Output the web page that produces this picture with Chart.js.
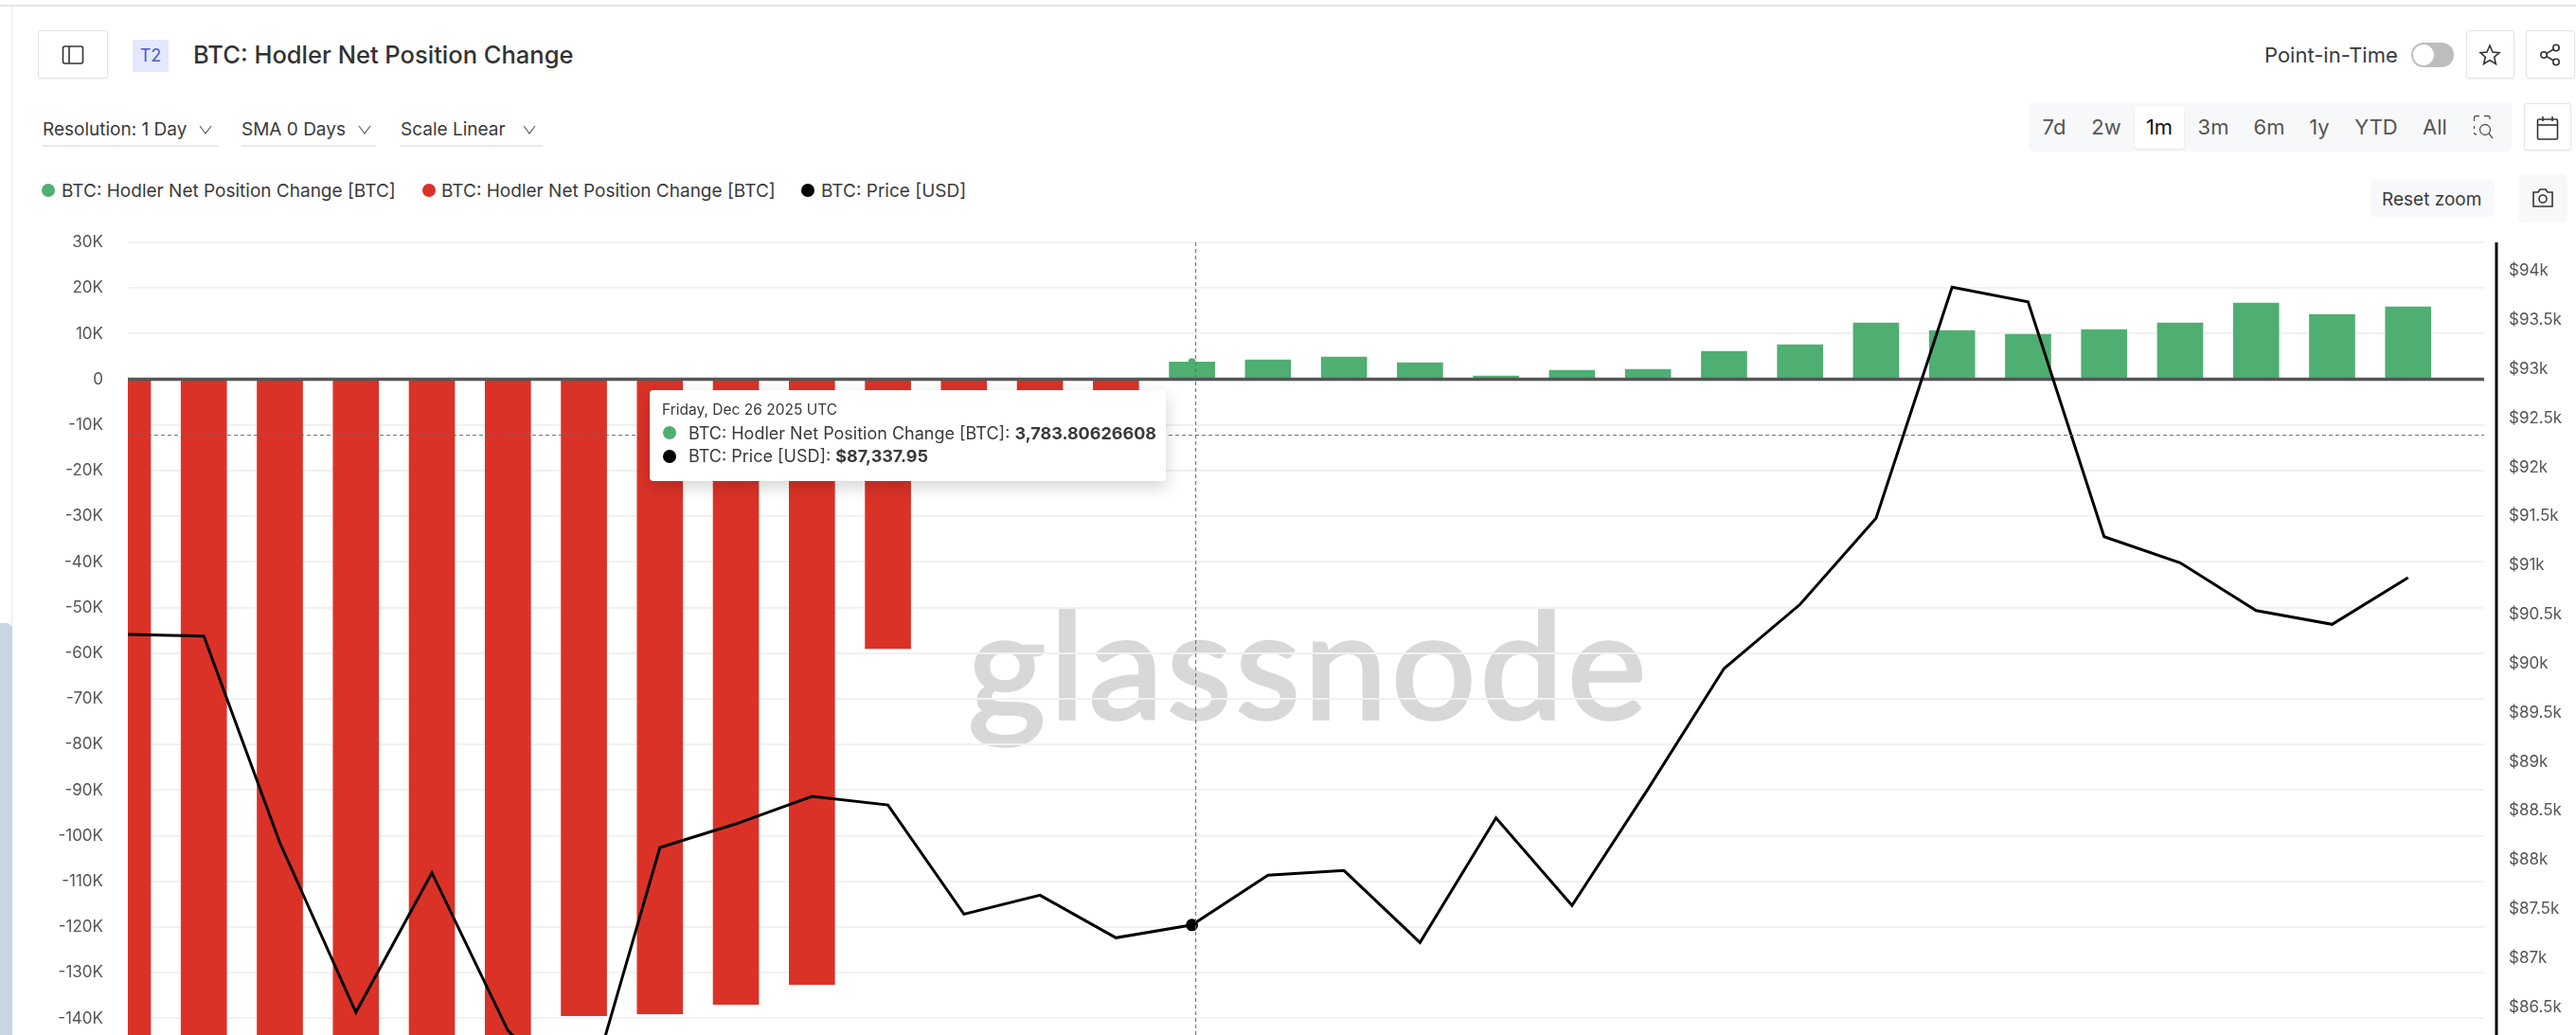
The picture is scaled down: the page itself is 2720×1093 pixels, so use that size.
<!DOCTYPE html>
<html lang="en">
<head>
<meta charset="UTF-8" />
<title>BTC: Hodler Net Position Change</title>
<script src="https://cdn.jsdelivr.net/npm/chart.js"></script>
<style>
  html, body { margin: 0; padding: 0; background: #fff; overflow: hidden; }
  body { width: 2720px; height: 1093px; position: relative; font-family: Inter, sans-serif; color: #3a3a3a; }
  .abs { position: absolute; white-space: nowrap; }
  .txt { position: absolute; white-space: nowrap; transform: translateY(-50%); line-height: 1.2; }
  .btn { position: absolute; box-sizing: border-box; background: #fff; border: 1px solid #e4e4e4; border-radius: 3px; box-shadow: 0 1px 2px rgba(0,0,0,.05); }
  .soft { position: absolute; background: #f7f8f9; border-radius: 5px; }
  .under { position: absolute; height: 2px; background: #e8e8e8; top: 153px; }
  .dot { position: absolute; width: 14px; height: 14px; border-radius: 50%; transform: translate(-50%, -50%); }
  svg { position: absolute; fill: none; stroke: #333; stroke-width: 1.6; }
  svg.chev { stroke: #555; stroke-width: 1.1; }
  svg.thin { stroke: #555; stroke-width: 1.3; }
  #chart { position: absolute; left: 0; top: 0; }
  #watermark { position: absolute; left: 1022px; top: 603px; font-family: Lato, sans-serif; font-weight: 400; font-size: 158px; line-height: 190px; color: #d8d8d8; -webkit-text-stroke: 3.5px #d8d8d8; letter-spacing: 4px; }
  #tip { position: absolute; left: 686px; top: 412px; width: 545px; height: 96px; background: #fff; border-radius: 4px; box-shadow: 0 6px 18px rgba(0,0,0,.18); }
</style>
</head>
<body>
<div class="abs" style="left:0;top:5px;width:2720px;height:2px;background:#e6e6e6"></div>
<div class="abs" style="left:12px;top:6px;width:1px;height:1087px;background:#e9e9e9"></div>
<div class="abs" style="left:0;top:658px;width:13px;height:435px;background:#c9d6df;border-radius:0 6px 0 0"></div>

<div class="btn" style="left:40px;top:32px;width:74px;height:51px"></div>
<svg style="left:65px;top:47px" width="24" height="22" viewBox="0 0 24 22"><rect x="1.5" y="2" width="21" height="18" rx="2"/><line x1="8" y1="2" x2="8" y2="20"/></svg>
<div class="abs" style="left:140px;top:42px;width:38px;height:34px;line-height:34px;text-align:center;background:#e4e8fb;color:#4a5ccf;font-size:18px">T2</div>
<div class="txt" style="left:204px;top:58px;font-size:25.5px;font-weight:500;color:#333">BTC: Hodler Net Position Change</div>

<div class="txt" style="left:45px;top:137px;font-size:19px">Resolution: 1 Day</div>
<div class="under" style="left:45px;width:185px"></div>
<svg class="chev" style="left:210px;top:132px" width="14" height="10" viewBox="0 0 14 10"><polyline points="1,1 7,9 13,1"/></svg>
<div class="txt" style="left:255px;top:137px;font-size:19px">SMA 0 Days</div>
<div class="under" style="left:255px;width:142px"></div>
<svg class="chev" style="left:378px;top:132px" width="14" height="10" viewBox="0 0 14 10"><polyline points="1,1 7,9 13,1"/></svg>
<div class="txt" style="left:423px;top:137px;font-size:19px">Scale Linear</div>
<div class="under" style="left:423px;width:150px"></div>
<svg class="chev" style="left:552px;top:132px" width="14" height="10" viewBox="0 0 14 10"><polyline points="1,1 7,9 13,1"/></svg>

<div id="legend"></div>

<div class="txt" style="left:2391px;top:58px;font-size:22px">Point-in-Time</div>
<div class="abs" style="left:2546px;top:45px;width:45px;height:26px;border-radius:13px;background:#bdbdbd"></div>
<div class="abs" style="left:2548px;top:47px;width:22px;height:22px;border-radius:50%;background:#fff"></div>
<div class="btn" style="left:2604px;top:32px;width:51px;height:51px"></div>
<svg style="left:2617px;top:46px" width="24" height="24" viewBox="0 0 24 24"><polygon points="12,2 15,9 22,9.6 16.7,14.2 18.4,21.5 12,17.6 5.6,21.5 7.3,14.2 2,9.6 9,9"/></svg>
<div class="btn" style="left:2667px;top:32px;width:52px;height:51px"></div>
<svg style="left:2681px;top:46px" width="24" height="24" viewBox="0 0 24 24"><circle cx="18" cy="4.5" r="3.2"/><circle cx="5" cy="12" r="3.2"/><circle cx="18" cy="19.5" r="3.2"/><line x1="8" y1="10.4" x2="15" y2="6.2"/><line x1="8" y1="13.6" x2="15" y2="17.8"/></svg>

<div class="soft" style="left:2142px;top:108px;width:510px;height:52px"></div>
<div class="abs" style="left:2254px;top:112px;width:52px;height:45px;background:#fff;border-radius:4px;box-shadow:0 1px 3px rgba(0,0,0,.08)"></div>
<div id="ranges"></div>
<svg class="thin" style="left:2611px;top:121px" width="24" height="26" viewBox="0 0 24 26"><path d="M1.5 7V3.5Q1.5 1.5 3.5 1.5H7M12 1.5H16Q18 1.5 18 3.5V5M1.5 12V15M1.5 19Q1.5 21 4 21"/><circle cx="13" cy="16" r="5.5"/><line x1="17" y1="20" x2="21" y2="25"/></svg>
<div class="btn" style="left:2665px;top:109px;width:50px;height:50px"></div>
<svg style="left:2678px;top:122px" width="24" height="26" viewBox="0 0 24 26"><rect x="1.5" y="4" width="21" height="21" rx="1.5"/><line x1="1.5" y1="10" x2="22.5" y2="10"/><line x1="7" y1="1" x2="7" y2="6"/><line x1="17" y1="1" x2="17" y2="6"/></svg>
<div class="soft" style="left:2503px;top:190px;width:131px;height:39px"></div>
<div class="txt" style="left:2515px;top:211px;font-size:19px">Reset zoom</div>
<div class="soft" style="left:2659px;top:184px;width:52px;height:51px"></div>
<svg style="left:2673px;top:198px" width="24" height="22" viewBox="0 0 24 22"><path d="M2 5H7L9 2H15L17 5H22V20H2Z"/><circle cx="12" cy="12" r="4"/></svg>

<div id="watermark">glassnode</div>
<!-- taller than the window: the scale reserves its tick padding below the plot, and that part is cut off -->
<canvas id="chart" width="2720" height="1130"></canvas>

<div id="tip">
  <div class="txt" style="left:13px;top:21px;font-size:15.5px" id="tipDate"></div>
  <div class="dot" style="left:21px;top:45px;background:#4fae72"></div>
  <div class="txt" style="left:41px;top:46px;font-size:18px" id="tipNet"></div>
  <div class="dot" style="left:21px;top:70px;background:#000"></div>
  <div class="txt" style="left:41px;top:70px;font-size:18px" id="tipPrice"></div>
</div>

<script>
const categories = ['Dec 12', 'Dec 13', 'Dec 14', 'Dec 15', 'Dec 16', 'Dec 17', 'Dec 18', 'Dec 19', 'Dec 20', 'Dec 21', 'Dec 22',
  'Dec 23', 'Dec 24', 'Dec 25', 'Dec 26', 'Dec 27', 'Dec 28', 'Dec 29', 'Dec 30', 'Dec 31', 'Jan 1', 'Jan 2', 'Jan 3', 'Jan 4',
  'Jan 5', 'Jan 6', 'Jan 7', 'Jan 8', 'Jan 9', 'Jan 10', 'Jan 11', 'Jan 12'];
const positiveChange = [null, null, null, null, null, null, null, null, null, null, null, null, null, null,
  3783.80626608, 4270, 4900, 3650, 750, 1990, 2200, 6140, 7590, 12360, 10700, 9870, 10910, 12360, 16720, 14230, 15890];
const negativeChange = [-165000, -162000, -158000, -155000, -150000, -146000, -139440, -139025, -136950, -132590, -59000,
  -6000, -5500, -5000];
const price = [90297, 90280, 88175, 86449, 87870, 86265, 85455, 88127, 88368, 88648, 88560,
  87449, 87642, 87208, 87337.95, 87845, 87893, 87160, 88429, 87536, 88724, 89950, 90603, 91481,
  93834, 93685, 91293, 91027, 90540, 90400, 90875];
const netTicks = [-140000, -130000, -120000, -110000, -100000, -90000, -80000, -70000, -60000, -50000, -40000, -30000,
  -20000, -10000, 0, 10000, 20000, 30000];
const priceTicks = [86500, 87000, 87500, 88000, 88500, 89000, 89500, 90000, 90500, 91000, 91500, 92000, 92500,
  93000, 93500, 94000];

const seriesNames = ['BTC: Hodler Net Position Change [BTC]', 'BTC: Hodler Net Position Change [BTC]', 'BTC: Price [USD]'];
const rangeLabels = ['7d', '2w', '1m', '3m', '6m', '1y', 'YTD', 'All'];
const tooltipDate = 'Friday, Dec 26 2025 UTC';

const hoverIndex = 14;
const cursorIndex = 14.05;
const cursorNet = -12250;

const GREEN = '#4fae72';
const RED = '#db3228';

// header bits that come from the lists above
const legendSpots = [[51, 65], [453, 466], [853, 867]];
const legendColors = [GREEN, RED, '#000'];
document.getElementById('legend').innerHTML = seriesNames.map((name, i) =>
  `<div class="dot" style="left:${legendSpots[i][0]}px;top:201px;background:${legendColors[i]}"></div>` +
  `<div class="txt" style="left:${legendSpots[i][1]}px;top:202px;font-size:19px">${name}</div>`).join('');

const rangeCenters = [2169, 2224, 2280, 2337, 2396, 2449, 2509, 2571];
document.getElementById('ranges').innerHTML = rangeLabels.map((label, i) =>
  `<div class="txt" style="left:${rangeCenters[i]}px;top:134px;font-size:22px;color:${label === '1m' ? '#111' : '#555'};transform:translate(-50%,-50%)">${label}</div>`).join('');

document.getElementById('tipDate').textContent = tooltipDate;
document.getElementById('tipNet').innerHTML = seriesNames[0] + ': <b>' +
  positiveChange[hoverIndex].toLocaleString('en-US', { maximumFractionDigits: 8 }) + '</b>';
document.getElementById('tipPrice').innerHTML = seriesNames[2] + ': <b>$' +
  price[hoverIndex].toLocaleString('en-US', { minimumFractionDigits: 2 }) + '</b>';

Chart.defaults.font.family = 'Inter, sans-serif';
Chart.defaults.font.size = 17;
Chart.defaults.color = '#555';

const overlays = {
  id: 'overlays',
  // zero line sits on top of the bars but under the price line
  afterDatasetDraw(chart, args) {
    if (args.index !== 1) return;
    const { ctx, chartArea: { left, right }, scales: { y } } = chart;
    ctx.save();
    ctx.strokeStyle = '#555';
    ctx.lineWidth = 3.5;
    ctx.beginPath();
    ctx.moveTo(left, y.getPixelForValue(0));
    ctx.lineTo(right, y.getPixelForValue(0));
    ctx.stroke();
    ctx.restore();
  },
  afterDraw(chart) {
    const { ctx, chartArea: { left, right, top, bottom }, scales: { x, y } } = chart;
    ctx.save();

    // crosshair
    ctx.strokeStyle = '#666';
    ctx.lineWidth = 1;
    ctx.setLineDash([4, 3]);
    ctx.beginPath();
    ctx.moveTo(x.getPixelForValue(cursorIndex), top);
    ctx.lineTo(x.getPixelForValue(cursorIndex), bottom);
    ctx.moveTo(left, y.getPixelForValue(cursorNet));
    ctx.lineTo(right, y.getPixelForValue(cursorNet));
    ctx.stroke();
    ctx.setLineDash([]);

    // hover marker on the bar
    ctx.fillStyle = GREEN;
    ctx.beginPath();
    ctx.arc(x.getPixelForValue(hoverIndex), y.getPixelForValue(positiveChange[hoverIndex]), 4, 0, Math.PI * 2);
    ctx.fill();

    // black rule of the price axis
    ctx.strokeStyle = '#000';
    ctx.lineWidth = 3;
    ctx.beginPath();
    ctx.moveTo(right + 13, top);
    ctx.lineTo(right + 13, bottom);
    ctx.stroke();
    ctx.restore();
  }
};

new Chart(document.getElementById('chart'), {
  data: {
    labels: categories,
    datasets: [
      { type: 'bar', label: seriesNames[0], data: positiveChange, backgroundColor: GREEN, barThickness: 48, grouped: false, order: 2, yAxisID: 'y' },
      { type: 'bar', label: seriesNames[1], data: negativeChange, backgroundColor: RED, barThickness: 48, grouped: false, order: 1, yAxisID: 'y' },
      {
        type: 'line', label: seriesNames[2], data: price, borderColor: '#000', backgroundColor: '#000', borderWidth: 3,
        tension: 0, order: 0, yAxisID: 'y1',
        pointRadius: c => (c.dataIndex === hoverIndex ? 5 : 0)
      }
    ]
  },
  options: {
    responsive: false,
    animation: false,
    events: [],
    layout: { padding: { top: 256, bottom: 0, left: 0, right: 0 } },
    plugins: { legend: { display: false }, tooltip: { enabled: false } },
    scales: {
      x: { type: 'category', display: false, offset: false, grid: { display: false, offset: false } },
      y: {
        position: 'left',
        min: -143800,
        max: 30000,
        border: { display: false },
        grid: { color: '#f1f1f1', lineWidth: 2, drawTicks: false },
        afterBuildTicks: scale => { scale.ticks = netTicks.map(value => ({ value })); },
        afterFit: scale => { scale.width = 135; },
        ticks: {
          autoSkip: false,
          padding: 26,
          callback: v => (v === 0 ? '0' : v / 1000 + 'K')
        }
      },
      y1: {
        position: 'right',
        min: 86210,
        max: 94290,
        border: { display: false },
        grid: { display: false, drawTicks: false },
        afterBuildTicks: scale => { scale.ticks = priceTicks.map(value => ({ value })); },
        afterFit: scale => { scale.width = 97; },
        ticks: {
          autoSkip: false,
          padding: 26,
          callback: v => '$' + v / 1000 + 'k'
        }
      }
    }
  },
  plugins: [overlays]
});
</script>
</body>
</html>
